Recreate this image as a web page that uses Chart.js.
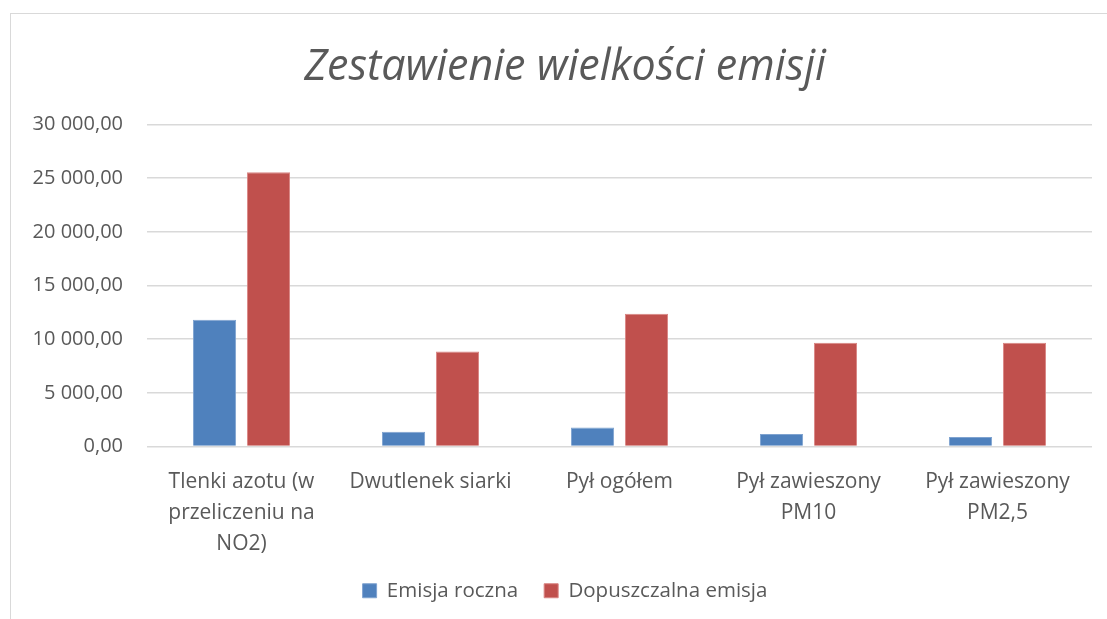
<!DOCTYPE html>
<html>
<head>
<meta charset="utf-8">
<script src="https://cdn.jsdelivr.net/npm/chart.js@4/dist/chart.umd.min.js"></script>
<style>
  body { margin: 0; background: #fff; }
  #frame { position: absolute; left: 10px; top: 13px; width: 1120px; height: 640px; border: 1px solid #d9d9d9; }
  #wrap { position: absolute; left: 0; top: 0; width: 1107px; height: 619px; }
</style>
</head>
<body>
<div id="frame"></div>
<div id="wrap"><canvas id="myChart" width="1107" height="619"></canvas></div>
<script>
const categories = [
    ['Tlenki azotu (w', 'przeliczeniu na', 'NO2)'],
    ['Dwutlenek siarki'],
    ['Pył ogółem'],
    ['Pył zawieszony', 'PM10'],
    ['Pył zawieszony', 'PM2,5']
];
const emisjaRoczna = [11820, 1380, 1780, 1160, 880];
const dopuszczalnaEmisja = [25570, 8860, 12380, 9670, 9670];
const yTicks = [0, 5000, 10000, 15000, 20000, 25000, 30000];

// 30000 -> "30 000,00"
formatPl = (v) => {
    let s = Math.round(v).toString();
    s = s.replace(/\B(?=(\d{3})+(?!\d))/g, ' ');
    return s + ',00';
}

Chart.defaults.font.family = '"Open Sans", sans-serif';
Chart.defaults.color = '#595959';

let ctx = document.getElementById('myChart');
var chart = new Chart(ctx, {
    type: 'bar',
    data: {
        labels: categories,
        datasets: [
            {
                label: 'Emisja roczna',
                data: emisjaRoczna,
                backgroundColor: '#4f81bd',
                borderColor: '#7fa3d0',
                borderWidth: 1
            },
            {
                label: 'Dopuszczalna emisja',
                data: dopuszczalnaEmisja,
                backgroundColor: '#c0504d',
                borderColor: '#d98583',
                borderWidth: 1
            }
        ]
    },
    options: {
        responsive: false,
        animation: false,
        layout: { padding: { left: 23, right: 0, top: 0, bottom: 8 } },
        datasets: {
            bar: { categoryPercentage: 0.571, barPercentage: 0.8 }
        },
        plugins: {
            title: {
                display: true,
                text: 'Zestawienie wielkości emisji',
                color: '#595959',
                font: { size: 43, style: 'italic', weight: 'normal' },
                padding: { top: 42, bottom: 31 }
            },
            legend: {
                position: 'bottom',
                labels: {
                    boxWidth: 14,
                    boxHeight: 14,
                    padding: 26,
                    color: '#595959',
                    font: { size: 20.5 }
                }
            },
            tooltip: { enabled: false }
        },
        scales: {
            x: {
                grid: { display: false },
                border: { display: false },
                ticks: {
                    color: '#595959',
                    font: { size: 21, lineHeight: 1.48 },
                    padding: 12,
                    maxRotation: 0,
                    autoSkip: false
                },
                afterFit: (scale) => { scale.height = 108; }
            },
            y: {
                min: 0,
                max: 30000,
                afterBuildTicks: (scale) => { scale.ticks = yTicks.map(v => ({ value: v })); },
                grid: { color: '#d9d9d9', lineWidth: 1.5, drawTicks: false },
                border: { display: false },
                ticks: {
                    color: '#595959',
                    font: { size: 20 },
                    padding: 24,
                    callback: (v) => formatPl(v)
                },
                afterFit: (scale) => { scale.width = 124; }
            },
            // empty right margin so the plot ends where the original does
            yRight: {
                position: 'right',
                grid: { display: false },
                border: { display: false },
                ticks: { display: false },
                afterFit: (scale) => { scale.width = 15; }
            }
        }
    }
});
</script>
</body>
</html>
